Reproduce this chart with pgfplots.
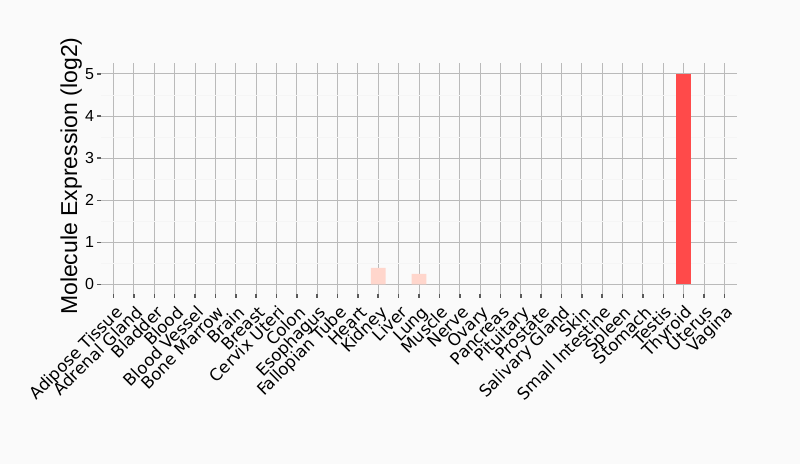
\documentclass[border=0pt]{standalone}
\usepackage{pgfplots}
\pgfplotsset{compat=1.18}
\usepackage{fontspec}
\setmainfont{DejaVu Sans}
\newfontfamily\lib{Liberation Sans}
\definecolor{bg}{HTML}{FAFAFA}
\definecolor{hi}{HTML}{FF4A4A}
\definecolor{lo}{HTML}{FFD6CC}
\begin{document}
\begin{tikzpicture}
\fill[bg] (0pt,0pt) rectangle (400pt,232pt);
\useasboundingbox (0pt,0pt) rectangle (400pt,232pt);
\begin{axis}[
  at={(50.5pt,85pt)}, anchor=south west, scale only axis,
  width=318pt, height=115.5pt,
  xmin=-0.62, xmax=30.62, ymin=-0.23, ymax=5.26,
  axis line style={draw=none},
  xtick={0,...,30},
  xticklabels={Adipose Tissue,Adrenal Gland,Bladder,Blood,Blood Vessel,Bone Marrow,Brain,Breast,Cervix Uteri,Colon,Esophagus,Fallopian Tube,Heart,Kidney,Liver,Lung,Muscle,Nerve,Ovary,Pancreas,Pituitary,Prostate,Salivary Gland,Skin,Small Intestine,Spleen,Stomach,Testis,Thyroid,Uterus,Vagina},
  ytick={0,...,5},
  minor ytick={0.5,1.5,2.5,3.5,4.5},
  xtick pos=bottom, ytick pos=left,
  grid=both,
  major grid style={color=black!27, line width=0.5pt},
  minor grid style={color=black!4, line width=0.4pt},
  tick align=outside,
  major tick length=1.8pt, minor tick length=0pt,
  xtick style={draw=black!65, line width=0.8pt},
  ytick style={draw=black!65, line width=0.6pt},
  /pgf/number format/assume math mode=true,
  xticklabel style={font=\fontsize{8.3}{9}\selectfont, rotate=45, anchor=north east, text height=1.6ex, inner sep=0pt, xshift=-2pt, yshift=-0.15pt},
  yticklabel style={font=\lib\fontsize{8}{9}\selectfont, inner sep=1.5pt},
  ylabel={\lib Molecule Expression (log2)},
  ylabel style={font=\lib\fontsize{11.5}{12}\selectfont, at={(axis description cs:-0.047,0.51)}, anchor=center, rotate=0},
  ybar, bar width=0.72, bar shift=0pt,
]
\addplot[fill=lo, draw=none] coordinates {(13,0.39) (15,0.25)};
\addplot[fill=hi, draw=none] coordinates {(28,5.0)};
\end{axis}
\end{tikzpicture}
\end{document}
